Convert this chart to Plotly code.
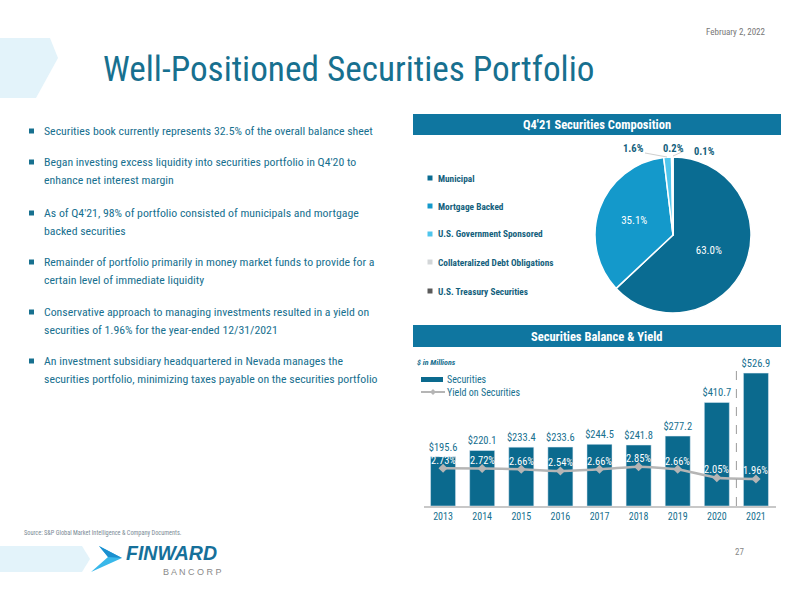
import plotly.graph_objects as go

# ---------------- data ----------------
pie_labels = ["Municipal", "Mortgage Backed", "U.S. Government Sponsored",
              "Collateralized Debt Obligations", "U.S. Treasury Securities"]
pie_values = [63.0, 35.1, 1.6, 0.2, 0.1]
pie_colors = ["#0a6c92", "#1499cb", "#4fc5ec", "#d3d6d8", "#5a5a5a"]

years = ["2013", "2014", "2015", "2016", "2017", "2018", "2019", "2020", "2021"]
securities = [195.6, 220.1, 233.4, 233.6, 244.5, 241.8, 277.2, 410.7, 526.9]
yields = [2.73, 2.72, 2.66, 2.54, 2.66, 2.85, 2.66, 2.05, 1.96]

bullets = [
    ["Securities book currently represents 32.5% of the overall balance sheet"],
    ["Began investing excess liquidity into securities portfolio in Q4'20 to", "enhance net interest margin"],
    ["As of Q4'21, 98% of portfolio consisted of municipals and mortgage", "backed securities"],
    ["Remainder of portfolio primarily in money market funds to provide for a", "certain level of immediate liquidity"],
    ["Conservative approach to managing investments resulted in a yield on", "securities of 1.96% for the year-ended 12/31/2021"],
    ["An investment subsidiary headquartered in Nevada manages the", "securities portfolio, minimizing taxes payable on the securities portfolio"],
]
bullet_y = [131, 162, 213, 262, 312, 361]

W, H = 800, 597
FONT = "Roboto Condensed, Roboto, sans-serif"
TEAL = "#17708f"
HEAD = "#0f76a0"


def px(x):
    return x / W


def py(y):
    return 1 - y / H


fig = go.Figure()

# pie
fig.add_trace(go.Pie(
    labels=pie_labels, values=pie_values, sort=False, direction="clockwise",
    rotation=0, marker=dict(colors=pie_colors, line=dict(color="white", width=1.5)),
    texttemplate=["%{value:.1f}%", "%{value:.1f}%", "", "", ""],
    textposition="inside", insidetextorientation="horizontal",
    textfont=dict(family=FONT, size=11, color="white"),
    domain=dict(x=[px(673 - 78), px(673 + 78)], y=[py(235 + 78), py(235 - 78)]),
    showlegend=False, hoverinfo="label+percent",
))

# bars
fig.add_trace(go.Bar(
    x=years, y=securities, marker_color="#0b6a8e", width=0.64,
    texttemplate="$%{y:.1f}", textposition="outside", cliponaxis=False, constraintext="none",
    textfont=dict(family=FONT, size=10.5, color=TEAL), showlegend=False,
))
fig.add_trace(go.Scatter(
    x=years, y=yields, yaxis="y2", mode="lines+markers",
    line=dict(color="#b5b5b5", width=2.5, shape="spline", smoothing=0.5),
    marker=dict(symbol="diamond", size=7, color="#b5b5b5"),
    cliponaxis=False, showlegend=False,
))

shapes = []
annotations = []

# yield labels (white, just above the points)
for i, v in enumerate(yields):
    annotations.append(dict(x=i, y=v, xref="x", yref="y2", yshift=8, text=f"{v:.2f}%", showarrow=False,
                            font=dict(family=FONT, size=10.5, color="white")))


def txt(x, y, t, size, color, xanchor="left", yanchor="middle", family=FONT):
    annotations.append(dict(x=px(x), y=py(y), xref="paper", yref="paper", xanchor=xanchor, yanchor=yanchor,
                            text=t, showarrow=False, font=dict(family=family, size=size, color=color)))


def path(pts, fill, layer="above"):
    d = "M " + " L ".join(f"{px(a)} {py(b)}" for a, b in pts) + " Z"
    shapes.append(dict(type="path", xref="paper", yref="paper", path=d, fillcolor=fill,
                       line=dict(width=0), layer=layer))


# top chevron and title
path([(0, 38), (50, 38), (58, 58), (36, 98), (0, 98)], "#e3f3fa", "below")
txt(101, 69, "Well-Positioned Securities Portfolio", 35.2, TEAL)
txt(768, 32, "February 2, 2022", 9, "#777777", xanchor="right")

# bullets
for lines, yy in zip(bullets, bullet_y):
    shapes.append(dict(type="rect", xref="paper", yref="paper", x0=px(29), x1=px(34),
                       y0=py(yy + 2.5), y1=py(yy - 2.5), fillcolor=TEAL, line=dict(width=0)))
    for k, ln in enumerate(lines):
        txt(42, yy + 18 * k, ln, 11.8, TEAL)

# header bars
for (y0, y1, t) in [(114, 135, "<b>Q4'21 Securities Composition</b>"), (325, 347, "<b>Securities Balance & Yield</b>")]:
    shapes.append(dict(type="rect", xref="paper", yref="paper", x0=px(413), x1=px(781),
                       y0=py(y1), y1=py(y0), fillcolor=HEAD, line=dict(width=0), layer="below"))
    txt(597, (y0 + y1) / 2, t, 12.5, "white", xanchor="center")

# pie legend
leg_y = [178, 206, 234, 262, 291]
for lab, col, yy in zip(pie_labels, pie_colors, leg_y):
    shapes.append(dict(type="rect", xref="paper", yref="paper", x0=px(427.5), x1=px(432.5),
                       y0=py(yy + 2.5), y1=py(yy - 2.5), fillcolor=col, line=dict(width=0)))
    txt(436, yy, f"<b>{lab}</b>", 9.3, "#145f7c")

# small pie labels
for t, x, yy in [("1.6%", 633, 149), ("0.2%", 673, 149), ("0.1%", 704, 151)]:
    txt(x, yy, f"<b>{t}</b>", 10.5, "#145f7c", xanchor="center")
for (x0, y0, x1, y1) in [(645, 153, 667, 157), (684, 151, 673, 156)]:
    shapes.append(dict(type="line", xref="paper", yref="paper", x0=px(x0), y0=py(y0), x1=px(x1), y1=py(y1),
                       line=dict(color="#cfcfcf", width=1)))

# bar legend
txt(415, 362, "<b><i>$ in Millions</i></b>", 8, TEAL)
shapes.append(dict(type="rect", xref="paper", yref="paper", x0=px(421), x1=px(443), y0=py(382), y1=py(377),
                   fillcolor="#0b6a8e", line=dict(width=0)))
shapes.append(dict(type="line", xref="paper", yref="paper", x0=px(421), x1=px(445), y0=py(392), y1=py(392),
                   line=dict(color="#b5b5b5", width=2)))
path([(430, 392), (433, 389), (436, 392), (433, 395)], "#b5b5b5")
txt(445, 379, "Securities", 10, TEAL)
txt(445, 392, "Yield on Securities", 10, TEAL)

# dashed divider
shapes.append(dict(type="line", xref="x", yref="paper", x0=7.5, x1=7.5, y0=py(506), y1=py(362),
                   line=dict(color="#9a9a9a", width=1, dash="dash")))

# footer
txt(22, 533, "Source: S&P Global Market Intelligence & Company Documents.", 6.3, "#7a8a95")
path([(0, 546), (82, 546), (90, 559), (82, 572), (0, 572)], "#e3f3fa", "below")
path([(99, 546), (122, 558), (91, 572), (108, 557)], "#39b8ea")
path([(99, 546), (122, 558), (108, 557)], "#1b8fcf")
txt(124, 553, "<b><i>FINWARD</i></b>", 19.5, "#16709a", family="Liberation Sans, Arial, sans-serif")
txt(161, 572, "B A N C O R P", 9, "#8a8a8a", family="Liberation Sans, Arial, sans-serif")
txt(746, 552, "27", 9, "#888888", xanchor="right")

fig.update_layout(
    width=W, height=H, margin=dict(l=0, r=0, t=0, b=0),
    paper_bgcolor="white", plot_bgcolor="white",
    font=dict(family=FONT),
    shapes=shapes, annotations=annotations,
    bargap=0.36,
    xaxis=dict(type="category", domain=[px(423.5), px(775.5)], range=[-0.5, 8.5], showgrid=False,
               showline=True, linecolor="#c8c8c8", linewidth=1.5, ticks="",
               tickfont=dict(family=FONT, size=10, color=TEAL), fixedrange=True),
    yaxis=dict(domain=[py(506), py(363)], range=[0, 567], showgrid=False, visible=False, fixedrange=True),
    yaxis2=dict(domain=[py(506), py(363)], range=[0, 10.36], overlaying="y", side="right",
                showgrid=False, visible=False, fixedrange=True),
)

fig.write_html("out.html")
